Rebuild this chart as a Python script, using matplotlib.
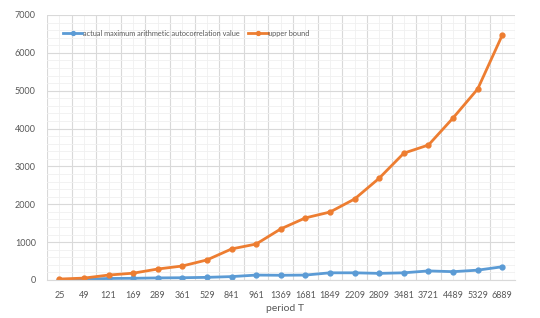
import numpy as np
import matplotlib.pyplot as plt
from matplotlib.ticker import MultipleLocator

# ── Data ──────────────────────────────────────────────────────────────────────
periods = ["25", "49", "121", "169", "289", "361", "529", "841", "961", "1369",
           "1681", "1849", "2209", "2809", "3481", "3721", "4489", "5329", "6889"]
actual = [10, 20, 40, 45, 55, 60, 70, 90, 130, 125,
          130, 190, 190, 175, 190, 240, 220, 260, 350]
upper = [25, 50, 130, 180, 290, 370, 530, 820, 950, 1350,
         1640, 1795, 2140, 2690, 3350, 3565, 4280, 5045, 6470]

BLUE = "#5B9BD5"
ORANGE = "#ED7D31"
TXT = "#595959"

plt.rcParams["font.family"] = ["Lato", "DejaVu Sans"]

# ── Plot ──────────────────────────────────────────────────────────────────────
fig = plt.figure(figsize=(5.4, 3.18), dpi=100)
ax = fig.add_axes([0.087, 0.1195, 0.866, 0.8335])

x = np.arange(len(periods))
ax.plot(x, actual, color=BLUE, lw=2, marker="o", ms=3.5,
        label="actual maximum arithmetic autocorrelation value")
ax.plot(x, upper, color=ORANGE, lw=2, marker="o", ms=3.5, label="upper bound")

ax.set_xlim(-0.5, len(periods) - 0.5)
ax.set_ylim(0, 7000)
ax.set_xticks(x)
ax.set_xticklabels(periods)
ax.yaxis.set_major_locator(MultipleLocator(1000))
ax.yaxis.set_minor_locator(MultipleLocator(200))

# category boundaries (major) and centres (minor)
for xb in np.arange(-0.5, len(periods), 1.0):
    ax.axvline(xb, color="#D9D9D9", lw=0.8, zorder=0)
for xc in x:
    ax.axvline(xc, color="#F0F0F0", lw=0.6, zorder=0)
ax.grid(True, axis="y", which="major", color="#D9D9D9", lw=0.8, zorder=0)
ax.grid(True, axis="y", which="minor", color="#F0F0F0", lw=0.6, zorder=0)

ax.tick_params(axis="both", which="both", length=0, labelsize=6.5, colors=TXT, pad=8)
for s in ax.spines.values():
    s.set_visible(False)
ax.spines["bottom"].set_visible(True)
ax.spines["bottom"].set_color("#D9D9D9")

fig.text(0.528, 0.03, "period T", fontsize=7.5, color=TXT, ha="center", va="center")
ax.legend(loc="upper left", bbox_to_anchor=(0.02, 0.97), ncol=2, frameon=False,
          fontsize=5.3, handlelength=2.6, handletextpad=0.1, columnspacing=1.2,
          labelcolor=TXT, markerscale=0.8)

fig.savefig("out.png", dpi=100)
